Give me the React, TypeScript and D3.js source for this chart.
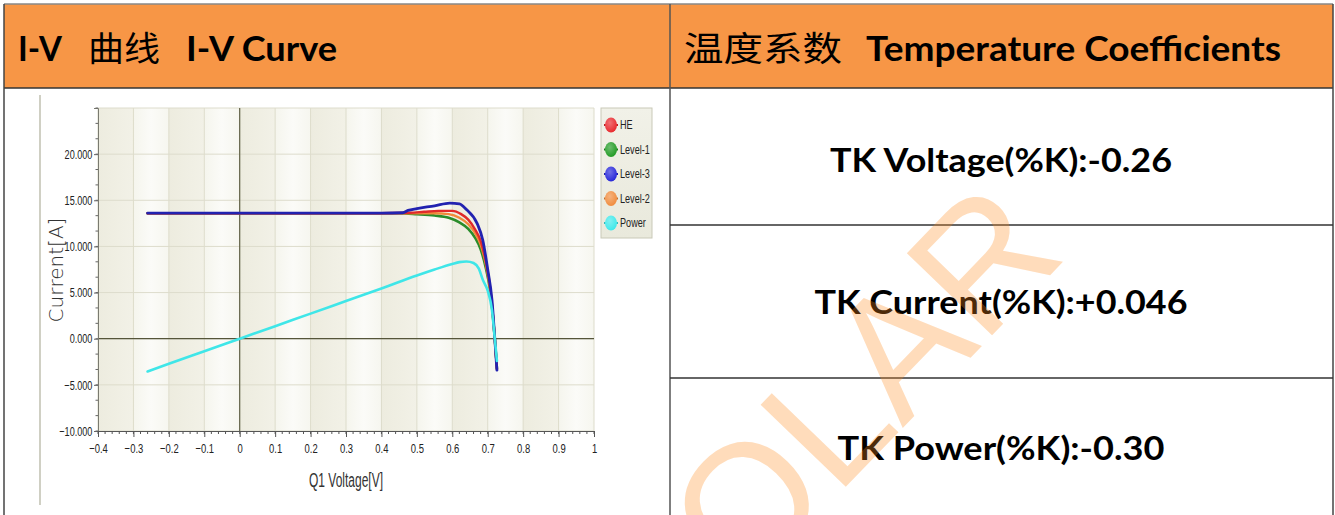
import React, { useEffect, useRef } from "react";
import * as d3 from "d3";

// table texts
const headerLeftParts = ["I-V", "曲线", "I-V Curve"];
const headerRightParts = ["温度系数", "Temperature Coefficients"];
const tkRows = ["TK Voltage(%K):-0.26", "TK Current(%K):+0.046", "TK Power(%K):-0.30"];
const watermark = "SOLAR";

// chart axes
const xTickValues = [-0.4, -0.3, -0.2, -0.1, 0, 0.1, 0.2, 0.3, 0.4, 0.5, 0.6, 0.7, 0.8, 0.9, 1];
const yTickValues = [-10, -5, 0, 5, 10, 15, 20];
const xLabel = "Q1 Voltage[V]";
const yLabel = "Current[A]";

// I-V curves (voltage V, current A)
const level3V = [-0.26, 0.0, 0.2, 0.4, 0.46, 0.475, 0.5, 0.55, 0.593, 0.62, 0.64, 0.67, 0.686, 0.7, 0.712, 0.72, 0.726];
const level3I = [13.6, 13.6, 13.6, 13.6, 13.65, 13.9, 14.1, 14.4, 14.7, 14.6, 14.0, 12.5, 10.7, 7.5, 4.2, 0.0, -3.4];

const heV = [-0.26, 0.0, 0.2, 0.4, 0.48, 0.52, 0.56, 0.6, 0.625, 0.645, 0.665, 0.68, 0.695, 0.708, 0.72, 0.726];
const heI = [13.6, 13.6, 13.6, 13.6, 13.65, 13.75, 13.85, 13.85, 13.5, 12.9, 11.8, 10.6, 8.3, 5.2, 0.0, -3.3];

const level1V = [-0.26, 0.0, 0.2, 0.45, 0.5, 0.55, 0.59, 0.62, 0.645, 0.665, 0.68, 0.695, 0.708, 0.72, 0.726];
const level1I = [13.6, 13.6, 13.6, 13.6, 13.5, 13.35, 13.1, 12.6, 11.9, 10.9, 9.7, 7.6, 4.9, 0.0, -3.2];

const level2V = [-0.26, 0.0, 0.2, 0.45, 0.5, 0.55, 0.59, 0.62, 0.645, 0.665, 0.68, 0.695, 0.708, 0.72, 0.726];
const level2I = [13.6, 13.6, 13.6, 13.6, 13.6, 13.6, 13.5, 13.1, 12.4, 11.4, 10.2, 8.0, 5.0, 0.0, -3.3];

// power curve (W)
const powerV = [-0.26, -0.2, -0.1, 0, 0.1, 0.2, 0.3, 0.4, 0.5, 0.55, 0.6, 0.62, 0.64, 0.66, 0.675, 0.686, 0.7, 0.712, 0.72, 0.726];
const powerP = [-3.55, -2.72, -1.36, 0, 1.36, 2.72, 4.08, 5.44, 6.85, 7.5, 8.1, 8.3, 8.37, 8.2, 7.6, 6.4, 5.2, 3.1, 0.0, -2.4];

const legendNames = ["HE", "Level-1", "Level-3", "Level-2", "Power"];
const legendColors = ["#e8262a", "#1f9a22", "#2424d8", "#f08a3a", "#3ce8ea"];

interface Pt { v: number; i: number; }
const zip = (vs: number[], is: number[]): Pt[] => vs.map((v, k) => ({ v, i: is[k] }));

const App: React.FC = () => {
    const svgRef = useRef<SVGSVGElement>(null);

    useEffect(() => {
        if (!svgRef.current) return;
        const svg = d3.select(svgRef.current);
        svg.selectAll("*").remove();

        const W = 1335, H = 515;
        const left = 4, mid = 670, right = 1333, top = 4, headBottom = 88;
        const rowLines = [225, 378];

        svg.append("rect").attr("width", W).attr("height", H).attr("fill", "#fff");

        // header background
        svg.append("rect").attr("x", left).attr("y", top).attr("width", right - left).attr("height", headBottom - top)
            .attr("fill", "#f79646");

        // header texts
        const hdr = svg.append("g").attr("fill", "#000");
        const latin = "Lato, 'Open Sans', sans-serif";
        const cjk = "'Noto Sans CJK SC', sans-serif";
        const hl = [
            { t: headerLeftParts[0], x: 18, w: 44, f: latin, wt: 700 },
            { t: headerLeftParts[1], x: 88, w: 72, f: cjk, wt: 400 },
            { t: headerLeftParts[2], x: 186, w: 151, f: latin, wt: 700 },
            { t: headerRightParts[0], x: 684, w: 158, f: cjk, wt: 400 },
            { t: headerRightParts[1], x: 866, w: 415, f: latin, wt: 700 },
        ];
        hl.forEach(d => {
            hdr.append("text").attr("x", d.x).attr("y", 61).text(d.t)
                .attr("font-family", d.f).attr("font-weight", d.wt).attr("font-size", 34)
                .attr("textLength", d.w).attr("lengthAdjust", "spacingAndGlyphs");
        });

        // TK rows
        const rowMid = [160, 302, 448];
        const rowW = [342, 373, 327];
        tkRows.forEach((t, k) => {
            svg.append("text").attr("x", 1001).attr("y", rowMid[k] + 12).attr("text-anchor", "middle")
                .attr("font-family", latin).attr("font-weight", 700).attr("font-size", 33)
                .attr("textLength", rowW[k]).attr("lengthAdjust", "spacingAndGlyphs").text(t);
        });

        // ---- chart ----
        const x = d3.scaleLinear().domain([-0.4, 1]).range([98, 594]);
        const y = d3.scaleLinear().domain([-10, 25]).range([431, 108]);
        const g = svg.append("g");

        // chart image border
        g.append("line").attr("x1", 40).attr("x2", 40).attr("y1", 95).attr("y2", 505)
            .attr("stroke", "#b0b09c").attr("stroke-width", 1.2);

        const defs = svg.append("defs");
        const mkGrad = (id: string, stops: [number, string][]) => {
            const lg = defs.append("linearGradient").attr("id", id).attr("x1", "0").attr("x2", "1").attr("y1", "0").attr("y2", "0");
            stops.forEach(([o, c]) => lg.append("stop").attr("offset", o).attr("stop-color", c));
        };
        mkGrad("bandDark", [[0, "#edecdf"], [1, "#f2f1e7"]]);
        mkGrad("bandLight", [[0, "#f5f5ed"], [0.5, "#fbfbf8"], [1, "#f6f6ef"]]);

        xTickValues.slice(0, -1).forEach((v, k) => {
            g.append("rect").attr("x", x(v)).attr("y", y(25)).attr("width", x(xTickValues[k + 1]) - x(v))
                .attr("height", y(-10) - y(25)).attr("fill", k % 2 === 0 ? "url(#bandDark)" : "url(#bandLight)");
        });

        // grid
        xTickValues.forEach(v => {
            g.append("line").attr("x1", x(v)).attr("x2", x(v)).attr("y1", y(25)).attr("y2", y(-10))
                .attr("stroke", "#dddccb").attr("stroke-width", 1);
        });
        [...yTickValues, 25].forEach(v => {
            g.append("line").attr("x1", x(-0.4)).attr("x2", x(1)).attr("y1", y(v)).attr("y2", y(v))
                .attr("stroke", "#dddccc").attr("stroke-width", 1);
        });

        // zero lines
        g.append("line").attr("x1", x(-0.4)).attr("x2", x(1)).attr("y1", y(0)).attr("y2", y(0))
            .attr("stroke", "#55553a").attr("stroke-width", 1.3);
        g.append("line").attr("x1", x(0)).attr("x2", x(0)).attr("y1", y(25)).attr("y2", y(-10))
            .attr("stroke", "#55553a").attr("stroke-width", 1.1);

        // y axis
        const yAxis = g.append("g").attr("transform", `translate(${x(-0.4)},0)`);
        yAxis.call(d3.axisLeft(y).tickValues(yTickValues).tickSize(4).tickPadding(4).tickFormat(d3.format(".3f")));
        yAxis.select(".domain").attr("stroke", "#7a7a70");
        yAxis.selectAll(".tick line").attr("stroke", "#666");
        yAxis.selectAll(".tick text").attr("fill", "#222").attr("font-size", 13)
            .attr("font-family", "'Liberation Sans', Arial, sans-serif").attr("transform", "scale(0.7,1)");
        const yMinor = d3.range(0, 22).map(k => -10 + (k * 5) / 3);
        yMinor.forEach(v => {
            g.append("line").attr("x1", x(-0.4) - 2.5).attr("x2", x(-0.4)).attr("y1", y(v)).attr("y2", y(v))
                .attr("stroke", "#666");
        });

        // x axis
        const xAxis = g.append("g").attr("transform", `translate(0,${y(-10)})`);
        xAxis.call(d3.axisBottom(x).tickValues(xTickValues).tickSize(6).tickPadding(6).tickFormat(d3.format("")));
        xAxis.select(".domain").attr("stroke", "#555");
        xAxis.selectAll(".tick line").attr("stroke", "#555");
        xAxis.selectAll(".tick text").attr("fill", "#222").attr("font-size", 13.5)
            .attr("font-family", "'Liberation Sans', Arial, sans-serif").attr("transform", "scale(0.7,1)");
        d3.range(0, 71).forEach(k => {
            const v = -0.4 + k * 0.02;
            g.append("line").attr("x1", x(v)).attr("x2", x(v)).attr("y1", y(-10)).attr("y2", y(-10) + 3)
                .attr("stroke", "#555");
        });

        // axis titles
        g.append("text").attr("transform", `translate(${346},${487}) scale(0.6,1)`).attr("text-anchor", "middle")
            .attr("font-family", "'Liberation Sans', Arial, sans-serif").attr("font-size", 20).attr("fill", "#333")
            .text(xLabel);
        g.append("text").attr("transform", `translate(${63},${270}) rotate(-90)`).attr("text-anchor", "middle")
            .attr("font-family", "'DejaVu Sans', sans-serif").attr("font-weight", 200).attr("font-size", 20)
            .attr("fill", "#333").text(yLabel);

        // curves
        const line = d3.line<Pt>().x(d => x(d.v)).y(d => y(d.i)).curve(d3.curveMonotoneX);
        const series: { pts: Pt[]; color: string; w: number }[] = [
            { pts: zip(level1V, level1I), color: "#2a8c2a", w: 2.6 },
            { pts: zip(level2V, level2I), color: "#f08a3a", w: 2.4 },
            { pts: zip(heV, heI), color: "#e02a2a", w: 2.4 },
            { pts: zip(level3V, level3I), color: "#2222b0", w: 2.8 },
            { pts: zip(powerV, powerP), color: "#3fe6e8", w: 2.6 },
        ];
        series.forEach(s => {
            g.append("path").datum(s.pts).attr("d", line).attr("fill", "none")
                .attr("stroke", s.color).attr("stroke-width", s.w).attr("stroke-linejoin", "round").attr("stroke-linecap", "round");
        });

        // legend
        const lgX = 601, lgY = 108, lgW = 51, lgH = 130;
        const legGrad = defs.append("linearGradient").attr("id", "legBg").attr("x1", 0).attr("x2", 0).attr("y1", 0).attr("y2", 1);
        legGrad.append("stop").attr("offset", 0).attr("stop-color", "#f1f1e8");
        legGrad.append("stop").attr("offset", 1).attr("stop-color", "#e9e9dc");
        g.append("rect").attr("x", lgX).attr("y", lgY).attr("width", lgW).attr("height", lgH)
            .attr("fill", "url(#legBg)").attr("stroke", "#c9c9b8");
        legendNames.forEach((name, k) => {
            const cy = lgY + 17 + k * 24.5;
            const rg = defs.append("radialGradient").attr("id", `lg${k}`).attr("cx", 0.4).attr("cy", 0.35).attr("r", 0.7);
            rg.append("stop").attr("offset", 0).attr("stop-color", d3.interpolateRgb(legendColors[k], "#fff")(0.35));
            rg.append("stop").attr("offset", 1).attr("stop-color", legendColors[k]);
            g.append("line").attr("x1", lgX + 3).attr("x2", lgX + 17).attr("y1", cy).attr("y2", cy)
                .attr("stroke", d3.color(legendColors[k])!.darker(0.6).toString()).attr("stroke-width", 2);
            g.append("ellipse").attr("cx", lgX + 10).attr("cy", cy).attr("rx", 6).attr("ry", 7.5)
                .attr("fill", `url(#lg${k})`);
            g.append("text").attr("transform", `translate(${lgX + 19},${cy + 4}) scale(0.7,1)`)
                .attr("font-family", "'Liberation Sans', Arial, sans-serif").attr("font-size", 13).attr("fill", "#222")
                .text(name);
        });

        // table lines
        const border = svg.append("g").attr("fill", "none");
        border.append("line").attr("x1", left).attr("x2", right).attr("y1", top).attr("y2", top)
            .attr("stroke", "#888").attr("stroke-width", 1.5);
        border.append("line").attr("x1", left).attr("x2", right).attr("y1", headBottom).attr("y2", headBottom)
            .attr("stroke", "#333").attr("stroke-width", 1.5);
        [left, mid, right].forEach(xx => {
            border.append("line").attr("x1", xx).attr("x2", xx).attr("y1", top).attr("y2", H)
                .attr("stroke", xx === mid ? "#555" : "#444").attr("stroke-width", 1.5);
        });
        rowLines.forEach(yy => {
            border.append("line").attr("x1", mid).attr("x2", right).attr("y1", yy).attr("y2", yy)
                .attr("stroke", "#333").attr("stroke-width", 1.5);
        });

        // watermark
        svg.append("text").attr("transform", "translate(866,466) rotate(-46)").attr("text-anchor", "middle")
            .attr("font-family", "'Liberation Sans', Arial, sans-serif").attr("font-size", 172)
            .attr("fill", "#ff8a1e").attr("fill-opacity", 0.3).text(watermark);
    }, []);

    return (
        <svg ref={svgRef} width={1335} height={515} style={{ position: "absolute", left: 0, top: 0 }} />
    );
};

export default App;
